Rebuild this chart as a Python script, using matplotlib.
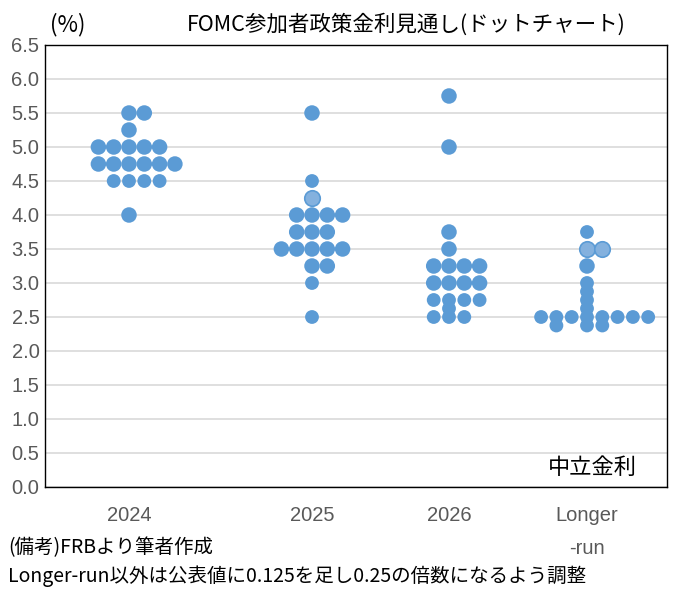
import matplotlib
matplotlib.use("Agg")
import matplotlib.pyplot as plt

plt.rcParams["font.family"] = ["Noto Sans CJK JP", "DejaVu Sans"]
num_font = "Liberation Sans"

# dot chart data: one entry per participant (rate in %)
categories = ["2024", "2025", "2026", "Longer\n-run"]
rates_2024 = [5.5, 5.5, 5.25, 5.0, 5.0, 5.0, 5.0, 5.0,
              4.75, 4.75, 4.75, 4.75, 4.75, 4.75, 4.5, 4.5, 4.5, 4.5, 4.0]
rates_2025 = [5.5, 4.5, 4.25, 4.0, 4.0, 4.0, 4.0, 3.75, 3.75, 3.75,
              3.5, 3.5, 3.5, 3.5, 3.5, 3.25, 3.25, 3.0, 2.5]
rates_2026 = [5.75, 5.0, 3.75, 3.5, 3.25, 3.25, 3.25, 3.25, 3.0, 3.0, 3.0, 3.0,
              2.75, 2.75, 2.75, 2.75, 2.625, 2.5, 2.5, 2.5]
rates_lr = [3.75, 3.5, 3.5, 3.25, 3.0, 2.875, 2.75, 2.625,
            2.5, 2.5, 2.5, 2.5, 2.5, 2.5, 2.5, 2.5, 2.375, 2.375, 2.375]
all_rates = [rates_2024, rates_2025, rates_2026, rates_lr]

# layout: column offset of each dot within its group
cols_2024 = [0, 1, 0, -2, -1, 0, 1, 2, -2, -1, 0, 1, 2, 3, -1, 0, 1, 2, 0]
cols_2025 = [0, 0, 0, -1, 0, 1, 2, -1, 0, 1, -2, -1, 0, 1, 2, 0, 1, 0, 0]
cols_2026 = [0, 0, 0, 0, -1, 0, 1, 2, -1, 0, 1, 2, -1, 0, 1, 2, 0, -1, 0, 1]
cols_lr = [0, 0, 1, 0, 0, 0, 0, 0, -3, -2, -1, 0, 1, 2, 3, 4, -2, 0, 1]
all_cols = [cols_2024, cols_2025, cols_2026, cols_lr]

# style: which dots are drawn smaller / lighter
small_2024 = [False] * 14 + [True] * 4 + [False]
small_2025 = [False, True] + [False] * 15 + [True, True]
small_2026 = [False] * 12 + [True] * 8
small_lr = [True, False, False, False] + [True] * 15
all_small = [small_2024, small_2025, small_2026, small_lr]
all_light = [[], [2], [], [1, 2]]

centers = [84, 267, 404, 542]
step = 15.3
blue = "#5B9BD5"
light_blue = "#84B1DE"

fig = plt.figure(figsize=(6.85, 5.89), dpi=100)
ax = fig.add_axes([45 / 685, 102 / 589, 622 / 685, 442 / 589])

for c, rates, cols, small, light in zip(centers, all_rates, all_cols, all_small, all_light):
    for i, (r, k) in enumerate(zip(rates, cols)):
        d = 13.8 if small[i] else 15.5
        s = (d * 0.72) ** 2
        if i in light:
            ax.scatter(c + k * step, r, s=s, color=light_blue, edgecolor=blue,
                       linewidth=1.2, zorder=4)
        else:
            ax.scatter(c + k * step, r, s=s, color=blue, edgecolor="none", zorder=3)

ax.set_xlim(0, 622)
ax.set_ylim(0, 6.5)
ax.set_yticks([i * 0.5 for i in range(14)])
ax.set_yticklabels([f"{i * 0.5:.1f}" for i in range(14)], fontfamily=num_font,
                   fontsize=14.5, color="#595959")
ax.set_xticks(centers)
ax.set_xticklabels(categories, fontfamily=num_font, fontsize=14.5, color="#595959",
                   linespacing=1.9)
ax.tick_params(axis="both", length=0)
ax.tick_params(axis="x", pad=14)
ax.tick_params(axis="y", pad=4)
ax.grid(axis="y", color="#D9D9D9", linewidth=1.2)
ax.set_axisbelow(True)
for sp in ax.spines.values():
    sp.set_color("black")
    sp.set_linewidth(1.0)

ax.text(0.951, 0.045, "中立金利", transform=ax.transAxes, ha="right", va="center",
        fontsize=16, color="black")

fig.text(50 / 685, 1 - 25 / 589, "(%)", ha="left", va="center", fontsize=16)
fig.text(406 / 685, 1 - 25 / 589, "FOMC参加者政策金利見通し(ドットチャート)",
         ha="center", va="center", fontsize=15.5)
fig.text(8 / 685, 1 - 548 / 589, "(備考)FRBより筆者作成", ha="left", va="center",
         fontsize=14)
fig.text(8 / 685, 1 - 576 / 589, "Longer-run以外は公表値に0.125を足し0.25の倍数になるよう調整",
         ha="left", va="center", fontsize=14)

fig.savefig("out.png", dpi=100)
